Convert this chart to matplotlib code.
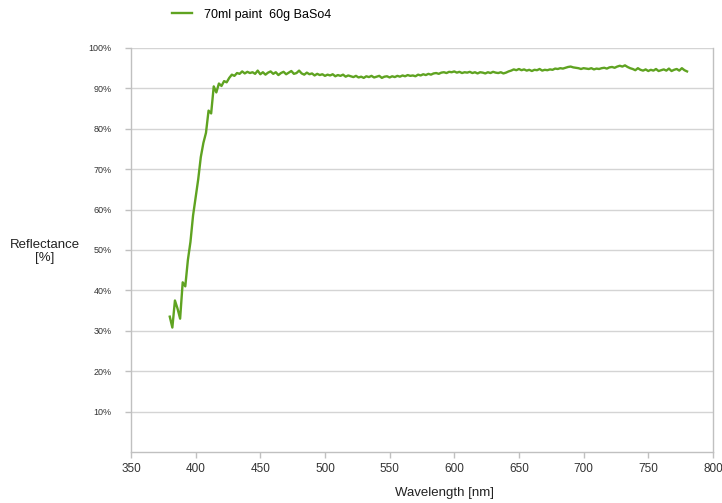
import matplotlib
matplotlib.use("Agg")
import matplotlib.pyplot as plt
import numpy as np

plt.rcParams['font.family'] = ['Liberation Sans', 'DejaVu Sans']

# wavelength grid in nm, 2 nm steps
wavelength = np.arange(380, 781, 2)

# reflectance in % (one row = 20 nm)
reflectance = [
    33.5, 30.8, 37.5, 35.5, 33.0, 42.0, 41.0, 47.5, 52.0, 58.5,   # 380-398
    63.0, 67.5, 73.0, 76.5, 79.0, 84.5, 83.8, 90.5, 89.0, 91.2,   # 400-418
    90.6, 91.8, 91.5, 92.6, 93.4, 93.1, 93.8, 93.6, 94.2, 93.7,   # 420-438
    94.1, 93.8, 94.0, 93.6, 94.4, 93.5, 94.0, 93.4, 93.9, 94.2,   # 440-458
    93.6, 94.0, 93.3, 93.8, 94.1, 93.5, 93.9, 94.3, 93.6, 93.8,   # 460-478
    94.4, 93.7, 93.4, 93.9, 93.5, 93.7, 93.2, 93.6, 93.3, 93.5,   # 480-498
    93.1, 93.4, 93.2, 93.5, 93.0, 93.3, 93.1, 93.4, 92.9, 93.2,   # 500-518
    93.0, 92.8, 93.1, 92.7, 92.9, 92.6, 93.0, 92.8, 93.1, 92.7,   # 520-538
    92.9, 93.1, 92.6, 92.9, 93.0, 92.7, 93.0, 92.8, 93.1, 92.9,   # 540-558
    93.2, 93.0, 93.3, 93.1, 93.2, 93.0, 93.4, 93.2, 93.5, 93.3,   # 560-578
    93.6, 93.4, 93.7, 93.8, 93.6, 93.9, 94.0, 93.8, 94.1, 94.0,   # 580-598
    94.2, 93.9, 94.1, 93.8, 94.0, 93.9, 94.1, 93.8, 94.0, 93.7,   # 600-618
    94.0, 93.9, 93.7, 94.0, 93.8, 94.1, 93.9, 93.8, 94.0, 93.7,   # 620-638
    93.9, 94.2, 94.4, 94.7, 94.5, 94.8, 94.5, 94.7, 94.4, 94.6,   # 640-658
    94.3, 94.6, 94.5, 94.8, 94.4, 94.6, 94.5, 94.7, 94.6, 94.9,   # 660-678
    94.8, 95.0, 94.9, 95.1, 95.3, 95.4, 95.2, 95.1, 95.0, 94.8,   # 680-698
    95.0, 94.9, 94.8, 95.0, 94.7, 94.9, 94.8, 95.0, 95.1, 94.9,   # 700-718
    95.2, 95.3, 95.1, 95.4, 95.6, 95.4, 95.7, 95.3, 95.0, 94.8,   # 720-738
    94.5, 95.0, 94.6, 94.4, 94.7, 94.3, 94.6, 94.4, 94.8, 94.3,   # 740-758
    94.5, 94.7, 94.4, 94.9, 94.3, 94.6, 94.8, 94.4, 95.0, 94.5,   # 760-778
    94.2,                                                         # 780
]

x_ticks = [350, 400, 450, 500, 550, 600, 650, 700, 750, 800]
y_ticks = [10, 20, 30, 40, 50, 60, 70, 80, 90, 100]

fig = plt.figure(figsize=(7.22, 5.03), dpi=100)
ax = fig.add_axes([0.1814, 0.1014, 0.806, 0.8032])

line, = ax.plot(wavelength, reflectance, color='#5fa321', lw=1.7,
                label='70ml paint  60g BaSo4')

ax.set_xlim(350, 800)
ax.set_ylim(0, 100)
ax.set_xticks(x_ticks)
ax.set_yticks(y_ticks)
ax.set_yticklabels([f'{v}%' for v in y_ticks], fontsize=6.5, color='#333333')
ax.set_xticklabels([str(v) for v in x_ticks], fontsize=8.5, color='#333333',
                   family=['Liberation Sans Narrow', 'Liberation Sans'])
ax.grid(axis='y', color='#d4d4d4', lw=1.0)
ax.set_axisbelow(True)
ax.tick_params(axis='both', length=4, color='#c0c0c0', width=1.0)
ax.tick_params(axis='y', pad=10)
ax.tick_params(axis='x', pad=4)
for s in ['left', 'bottom', 'right']:
    ax.spines[s].set_color('#c0c0c0')
    ax.spines[s].set_linewidth(1.0)
ax.spines['top'].set_visible(False)

fig.text(0.062, 0.5, 'Reflectance\n[%]', ha='center', va='center',
         fontsize=9.5, color='#222222', linespacing=1.2)
fig.text(0.615, 0.02, 'Wavelength [nm]', ha='center', va='center',
         fontsize=9.5, color='#222222')

fig.legend(handles=[line], loc='center left', bbox_to_anchor=(0.23, 0.971),
           frameon=False, fontsize=9, handlelength=1.6, handletextpad=0.9,
           borderpad=0)

fig.savefig('out.png', dpi=100)
